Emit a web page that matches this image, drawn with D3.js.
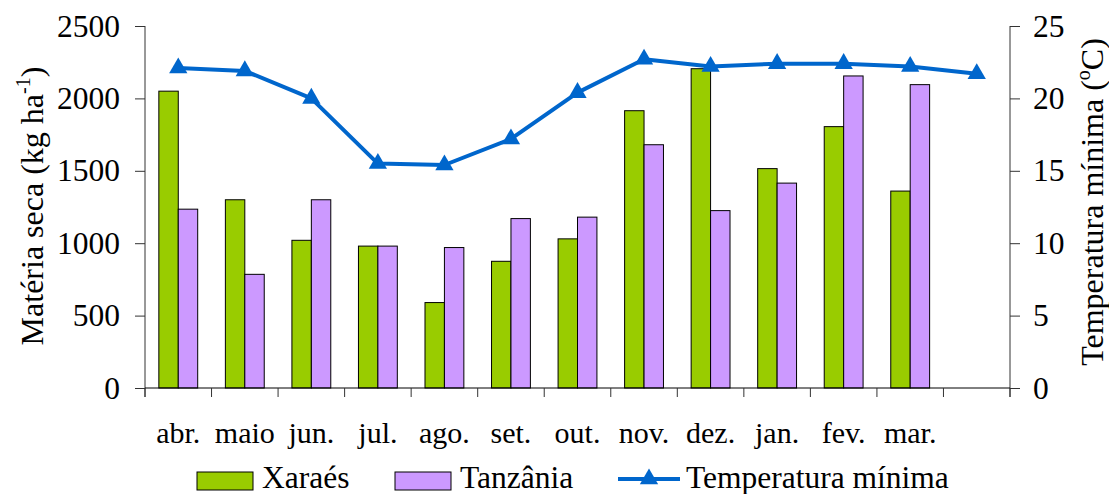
<!DOCTYPE html>
<html><head><meta charset="utf-8">
<script src="https://cdn.jsdelivr.net/npm/d3@7"></script>
<style>body{margin:0;background:#fff}svg{display:block}</style>
</head><body><svg id="c" width="1109" height="494"></svg>
<script>
const months = ["abr.","maio","jun.","jul.","ago.","set.","out.","nov.","dez.","jan.","fev.","mar.",""];
const xaraes = [2050,1300,1020,980,590,875,1030,1915,2205,1515,1805,1360,null];
const tanzania = [1235,785,1300,980,970,1170,1180,1680,1225,1415,2155,2095,null];
const tempMin = [22.1,21.9,20.0,15.5,15.4,17.2,20.4,22.7,22.2,22.4,22.4,22.2,21.7];
const leftTicks = [0,500,1000,1500,2000,2500];
const rightTicks = [0,5,10,15,20,25];

const FONT = '"Liberation Serif"';
const svg = d3.select("#c");
const L = 145, R = 1010, T = 26, B = 388;
const x = d3.scaleBand().domain(d3.range(months.length)).range([L, R]).padding(0);
const y = d3.scaleLinear().domain([0, 2500]).range([B, T]);
const y2 = d3.scaleLinear().domain([0, 25]).range([B, T]);
const bw = x.bandwidth();
const barW = bw * 0.292;

function txt(sel, fs){ return sel.style("font-family", FONT).attr("font-family", "Liberation Serif").style("font-size", fs).attr("fill", "#000"); }

// bars
const series = [{name:"Xaraés", vals:xaraes, color:"#99CC00"},{name:"Tanzânia", vals:tanzania, color:"#CC99FF"}];
series.forEach((s, j) => {
  svg.append("g").selectAll("rect").data(s.vals.map((v,i)=>({v,i})).filter(d=>d.v!=null)).join("rect")
    .attr("x", d => x(d.i) + bw/2 - barW + j*barW)
    .attr("y", d => y(d.v))
    .attr("width", barW)
    .attr("height", d => B - y(d.v))
    .attr("fill", s.color)
    .attr("stroke", "#000").attr("stroke-width", 1);
});

// axes
const axisColor = "#333";
const gL = svg.append("g").attr("transform", `translate(${L},0)`)
  .call(d3.axisLeft(y).tickValues(leftTicks).tickSize(10).tickPadding(15).tickFormat(d3.format("d")));
const gR = svg.append("g").attr("transform", `translate(${R},0)`)
  .call(d3.axisRight(y2).tickValues(rightTicks).tickSize(10).tickPadding(13).tickFormat(d3.format("d")));
[gL, gR].forEach(g => {
  g.attr("font-family", "Liberation Serif");
  g.select(".domain").remove();
  g.selectAll(".tick line").attr("stroke", axisColor);
  txt(g.selectAll("text"), "31.5px");
});
svg.append("line").attr("x1", L).attr("x2", L).attr("y1", T).attr("y2", B + 9).attr("stroke", axisColor);
svg.append("line").attr("x1", R).attr("x2", R).attr("y1", T).attr("y2", B + 9).attr("stroke", axisColor);
// x axis
svg.append("line").attr("x1", L).attr("x2", R).attr("y1", B).attr("y2", B).attr("stroke", "#000");
const edges = d3.range(months.length + 1).map(i => i < months.length ? x(i) : R);
svg.append("g").selectAll("line").data(edges).join("line")
  .attr("x1", d => d).attr("x2", d => d).attr("y1", B).attr("y2", B + 9).attr("stroke", axisColor);
txt(svg.append("g").selectAll("text").data(months).join("text")
  .attr("x", (d,i) => x(i) + bw/2).attr("y", 443).attr("text-anchor", "middle")
  .text(d => d), "30px");

// line
const line = d3.line().x((d,i) => x(i) + bw/2).y(d => y2(d));
svg.append("path").datum(tempMin).attr("d", line).attr("fill", "none")
  .attr("stroke", "#0066CC").attr("stroke-width", 4).attr("stroke-linejoin", "round");
const tri = d3.symbol().type(d3.symbolTriangle).size(145);
svg.append("g").selectAll("path").data(tempMin).join("path")
  .attr("d", tri).attr("transform", (d,i) => `translate(${x(i)+bw/2},${y2(d)})`).attr("fill", "#0066CC");

// axis titles
txt(svg.append("text").attr("transform", "translate(43,206) rotate(-90)").attr("text-anchor", "middle"), "32px")
  .html('Matéria seca (kg ha<tspan dy="-13" style="font-size:20px">-1</tspan><tspan dy="13">)</tspan>');
txt(svg.append("text").attr("transform", "translate(1103,202) rotate(-90)").attr("text-anchor", "middle"), "32px")
  .html('Temperatura mínima (<tspan dy="-13" style="font-size:20px">o</tspan><tspan dy="13">C)</tspan>');

// legend
const lg = svg.append("g");
const legItems = [{label:"Xaraés", color:"#99CC00", x:197},{label:"Tanzânia", color:"#CC99FF", x:395}];
legItems.forEach(it => {
  lg.append("rect").attr("x", it.x).attr("y", 472).attr("width", 56).attr("height", 18)
    .attr("fill", it.color).attr("stroke", "#000");
  txt(lg.append("text").attr("x", it.x + 65).attr("y", 488).text(it.label), "31.5px");
});
lg.append("line").attr("x1", 618).attr("x2", 680).attr("y1", 479).attr("y2", 479).attr("stroke", "#0066CC").attr("stroke-width", 4);
lg.append("path").attr("d", tri).attr("transform", "translate(649,479)").attr("fill", "#0066CC");
txt(lg.append("text").attr("x", 686).attr("y", 488).text("Temperatura mínima"), "31.5px");
</script></body></html>
